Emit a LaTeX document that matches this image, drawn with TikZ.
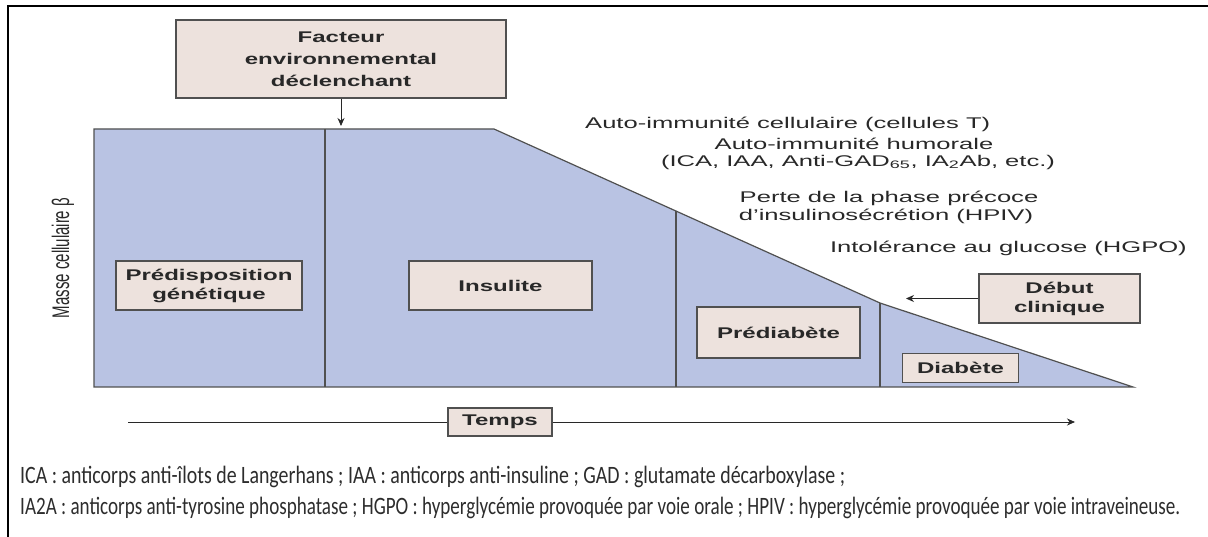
\documentclass[tikz,border=0pt]{standalone}
\usepackage{fontspec}
\setmainfont{Liberation Sans}
\newfontfamily\notefont{Carlito}
\usepackage{graphicx}
\usetikzlibrary{arrows.meta}
\definecolor{massfill}{RGB}{185,195,227}
\definecolor{boxfill}{RGB}{237,226,221}
\definecolor{edge}{RGB}{80,80,80}
\definecolor{ink}{RGB}{40,40,40}
\definecolor{noteink}{RGB}{45,45,45}
\newcommand\sx[1]{\scalebox{1.65}[1]{#1}}
\newcommand\bx[1]{\scalebox{1.55}[1]{#1}}
\begin{document}
\begin{tikzpicture}[x=1pt,y=-1pt,
  lbl/.style={text=ink, font=\fontsize{15.5}{19}\selectfont, inner sep=0pt},
  stagebox/.style={draw=edge, fill=boxfill, line width=1.2pt, text=ink,
    font=\fontsize{15.5}{19}\selectfont\bfseries, align=center, inner sep=0pt},
  note/.style={text=noteink, font=\notefont\fontsize{25}{28}\selectfont, inner sep=0pt},
  conn/.style={draw=ink, line width=0.8pt, -{Stealth[length=8pt,width=7pt]}},
  divider/.style={draw=edge, line width=1.2pt},
]
\useasboundingbox (0,0) rectangle (1208,537);
\fill[white] (0,0) rectangle (1208,537);
\draw[line width=2.2pt] (8,537) -- (8,6) -- (1208,6);

% beta-cell mass area
\draw[fill=massfill, draw=edge, line width=1.2pt]
  (94,129) -- (494,129) -- (880,303) -- (1133,387) -- (94,387) -- cycle;
\draw[divider] (325,129) -- (325,387);
\draw[divider] (676,211) -- (676,387);
\draw[divider] (880,303) -- (880,387);

% boxes
\node[stagebox, minimum width=330pt, minimum height=78pt,
  font=\fontsize{15.5}{22}\selectfont\bfseries] (fact) at (341,59)
  {\bx{Facteur}\\\bx{environnemental}\\\bx{déclenchant}};
\node[stagebox, minimum width=186pt, minimum height=49pt] (pred) at (209,285.5)
  {\bx{Prédisposition}\\\bx{génétique}};
\node[stagebox, minimum width=183pt, minimum height=49pt] (ins) at (500.5,285.5)
  {\bx{Insulite}};
\node[stagebox, minimum width=163pt, minimum height=51pt] (prediab) at (778.5,332.5)
  {\bx{Prédiabète}};
\node[stagebox, minimum width=116pt, minimum height=29pt] (diab) at (960.5,368)
  {\bx{Diabète}};
\node[stagebox, minimum width=161pt, minimum height=49pt] (debut) at (1059.5,298.5)
  {\bx{Début}\\\bx{clinique}};

% arrows
\coordinate (envtip) at (341,126);
\draw[conn] (fact) -- (envtip);
\coordinate (debtip) at (906,298.5);
\draw[conn] (debut) -- (debtip);

% time axis
\coordinate (tstart) at (128,422);
\coordinate (tend) at (1075,422);
\draw[conn] (tstart) -- (tend);
\node[stagebox, minimum width=104pt, minimum height=28pt] (temps) at (500,422)
  {\bx{Temps}};

% labels
\node[lbl, inner sep=0pt] (mass) at (63,258)
  {\scalebox{1.6}[1]{\rotatebox{90}{\fontsize{15}{18}\selectfont Masse cellulaire β}}};
\node[lbl, anchor=west] (cell) at (585,124) {\sx{Auto-immunité cellulaire (cellules T)}};
\node[lbl] (hum) at (854,144) {\sx{Auto-immunité humorale}};
\node[lbl] (ica) at (858,162) {\sx{(ICA, IAA, Anti-GAD\textsubscript{65}, IA\textsubscript{2}Ab, etc.)}};
\node[lbl] (perte) at (889,198) {\sx{Perte de la phase précoce}};
\node[lbl] (insul) at (886,216) {\sx{d'insulinosécrétion (HPIV)}};
\node[lbl, anchor=east] (intol) at (1187,248) {\sx{Intolérance au glucose (HGPO)}};

% footnotes
\node[note, anchor=west] (n1) at (20,477)
  {\resizebox{825pt}{\height}{ICA : anticorps anti-îlots de Langerhans ; IAA : anticorps anti-insuline ; GAD : glutamate décarboxylase ;}};
\node[note, anchor=west] (n2) at (20,508)
  {\resizebox{1160pt}{\height}{IA2A : anticorps anti-tyrosine phosphatase ; HGPO : hyperglycémie provoquée par voie orale ; HPIV : hyperglycémie provoquée par voie intraveineuse.}};
\end{tikzpicture}
\end{document}
